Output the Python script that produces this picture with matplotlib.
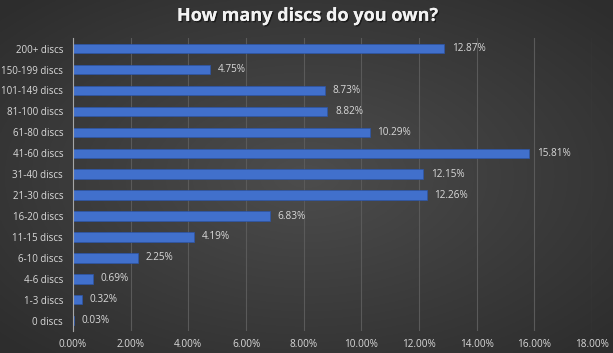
import matplotlib
matplotlib.use("Agg")
import matplotlib.pyplot as plt
import numpy as np
from matplotlib.ticker import FuncFormatter
import matplotlib.patheffects as pe

categories = ["200+ discs", "150-199 discs", "101-149 discs", "81-100 discs", "61-80 discs",
              "41-60 discs", "31-40 discs", "21-30 discs", "16-20 discs", "11-15 discs",
              "6-10 discs", "4-6 discs", "1-3 discs", "0 discs"]
values = [12.87, 4.75, 8.73, 8.82, 10.29, 15.81, 12.15, 12.26, 6.83, 4.19, 2.25, 0.69, 0.32, 0.03]
xticks = [0, 2, 4, 6, 8, 10, 12, 14, 16, 18]

plt.rcParams['font.family'] = ['Open Sans', 'DejaVu Sans']
fig = plt.figure(figsize=(6.13, 3.53), dpi=100)

# background radial gradient
bg = fig.add_axes([0, 0, 1, 1])
yy, xx = np.mgrid[-1:1:200j, -1:1:350j]
r = np.sqrt(xx**2 * 0.8 + yy**2 * 0.8)
g = 0.30 - 0.10 * np.clip(r, 0, 1.2)
bg.imshow(np.dstack([g, g, g]), aspect='auto', extent=[0, 1, 0, 1])
bg.axis('off')

ax = fig.add_axes([0.119, 0.062, 0.847, 0.830])
ax.patch.set_alpha(0)
y = np.arange(len(categories))
bars = ax.barh(y, values, height=0.45, color='#4170cc', edgecolor='#2c55a8', linewidth=0.5, zorder=3)
ax.set_ylim(len(categories) - 0.5, -0.5)
ax.set_xlim(0, 18)
ax.set_yticks(y)
ax.set_yticklabels(categories, fontsize=7, color='#d9d9d9')
ax.set_xticks(xticks)
ax.xaxis.set_major_formatter(FuncFormatter(lambda v, p: f"{v:.2f}%"))
ax.tick_params(axis='x', labelsize=7.2, colors='#d9d9d9', length=0, pad=6)
ax.tick_params(axis='y', length=0, pad=7)
ax.grid(axis='x', color='#5a5a5a', linewidth=0.8, zorder=0)
for s in ['top', 'right', 'bottom']:
    ax.spines[s].set_visible(False)
ax.spines['left'].set_color('#a6a6a6')
ax.spines['left'].set_linewidth(0.8)
ax.spines['left'].set_zorder(4)

for yi, v in zip(y, values):
    ax.text(v + 0.27, yi, f"{v:.2f}%", va='center', ha='left', fontsize=7.2, color='#d9d9d9', zorder=5)

t = fig.text(0.5, 0.955, "How many discs do you own?", ha='center', va='center',
             fontsize=13, fontweight='bold', color='#f2f2f2')
t.set_path_effects([pe.withSimplePatchShadow(offset=(1, -1), shadow_rgbFace='black', alpha=0.5), pe.Normal()])

fig.savefig("out.png", dpi=100)
